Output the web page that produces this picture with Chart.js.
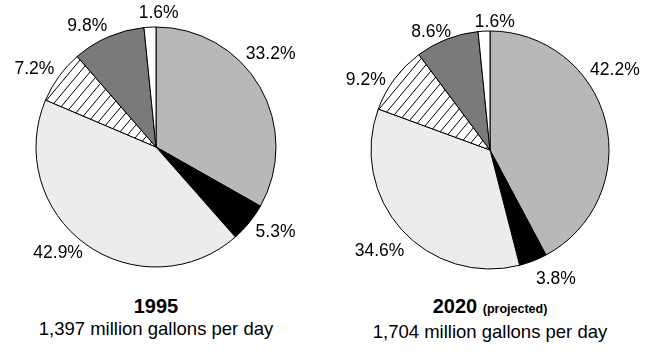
<!DOCTYPE html>
<html>
<head>
<meta charset="utf-8">
<script src="https://cdn.jsdelivr.net/npm/chart.js@4.4.1/dist/chart.umd.min.js"></script>
<style>
  html, body { margin: 0; padding: 0; background: #fff; }
  body { width: 659px; height: 352px; position: relative; overflow: hidden;
         font-family: "Liberation Sans", Arial, Helvetica, sans-serif; color: #000; }
  .pie { position: absolute; top: 0; }
  .caption { position: absolute; width: 320px; text-align: center; }
  .caption .year { font-weight: bold; font-size: 20px; line-height: 22px; }
  .caption .year small { font-size: 12.5px; }
  .caption .total { font-size: 18.5px; line-height: 23px; }
</style>
</head>
<body>
<canvas id="pie1995" class="pie" width="330" height="290" style="left:0"></canvas>
<canvas id="pie2020" class="pie" width="329" height="290" style="left:330px"></canvas>
<div class="caption" style="left:-4px; top:295px">
  <div class="year">1995</div>
  <div class="total">1,397 million gallons per day</div>
</div>
<div class="caption" style="left:330px; top:295px">
  <div class="year">2020 <small>(projected)</small></div>
  <div class="total">1,704 million gallons per day</div>
</div>
<script>
// Water use shares (percent), slices listed clockwise from 12 o'clock
const categories = ['Category A', 'Category B', 'Category C', 'Category D', 'Category E', 'Category F'];
const share1995 = [33.2, 5.3, 42.9, 7.2, 9.8, 1.6];
const share2020 = [42.2, 3.8, 34.6, 9.2, 8.6, 1.6];

// Diagonal hatch fill for the fourth slice
function hatchPattern() {
  const w = 10, h = 12;
  const c = document.createElement('canvas');
  c.width = w; c.height = h;
  const g = c.getContext('2d');
  g.fillStyle = '#fff';
  g.fillRect(0, 0, w, h);
  g.strokeStyle = '#000';
  g.lineWidth = 1;
  g.beginPath();
  g.moveTo(0, h); g.lineTo(w, 0);
  g.stroke();
  return g.createPattern(c, 'repeat');
}

const sliceColors = ['#b8b8b8', '#000000', '#ececec', hatchPattern(), '#7a7a7a', '#ffffff'];

// Percent labels placed outside each slice: angle tweak (deg) and gap beyond the rim (px)
const outsideLabels = {
  id: 'outsideLabels',
  afterDatasetsDraw(chart, args, opts) {
    const ctx = chart.ctx;
    const meta = chart.getDatasetMeta(0);
    const values = chart.data.datasets[0].data;
    ctx.save();
    ctx.font = opts.font;
    ctx.fillStyle = '#000';
    ctx.textAlign = 'center';
    ctx.textBaseline = 'middle';
    meta.data.forEach((arc, i) => {
      const p = arc.getProps(['x', 'y', 'startAngle', 'endAngle', 'outerRadius'], true);
      const a = (p.startAngle + p.endAngle) / 2 + (opts.turn[i] || 0) * Math.PI / 180;
      const d = p.outerRadius + opts.gap[i];
      const text = values[i].toFixed(1) + '%';
      ctx.fillText(text, p.x + d * Math.cos(a), p.y + d * Math.sin(a) + 1);
    });
    ctx.restore();
  }
};

function makePie(id, values, radius, padding, turn, gap) {
  return new Chart(document.getElementById(id), {
    type: 'pie',
    data: {
      labels: categories,
      datasets: [{
        data: values,
        backgroundColor: sliceColors,
        borderColor: '#000',
        borderWidth: 1,
        radius: radius
      }]
    },
    options: {
      responsive: false,
      animation: false,
      layout: { padding: padding },
      plugins: {
        legend: { display: false },
        tooltip: { enabled: false },
        outsideLabels: {
          font: '17.5px "Liberation Sans", Arial, sans-serif',
          turn: turn,
          gap: gap
        }
      }
    },
    plugins: [outsideLabels]
  });
}

makePie('pie1995', share1995, 120, { left: 36, top: 27, right: 54, bottom: 23 },
        [-9, -4, 7, -3, -6, 4], [28, 26, 24, 25, 20, 15]);
makePie('pie2020', share2020, 119, { left: 41, top: 31, right: 50, bottom: 21 },
        [-19, -6, 0, -7, -5, 5], [30, 25, 30, 24, 14, 10]);
</script>
</body>
</html>
